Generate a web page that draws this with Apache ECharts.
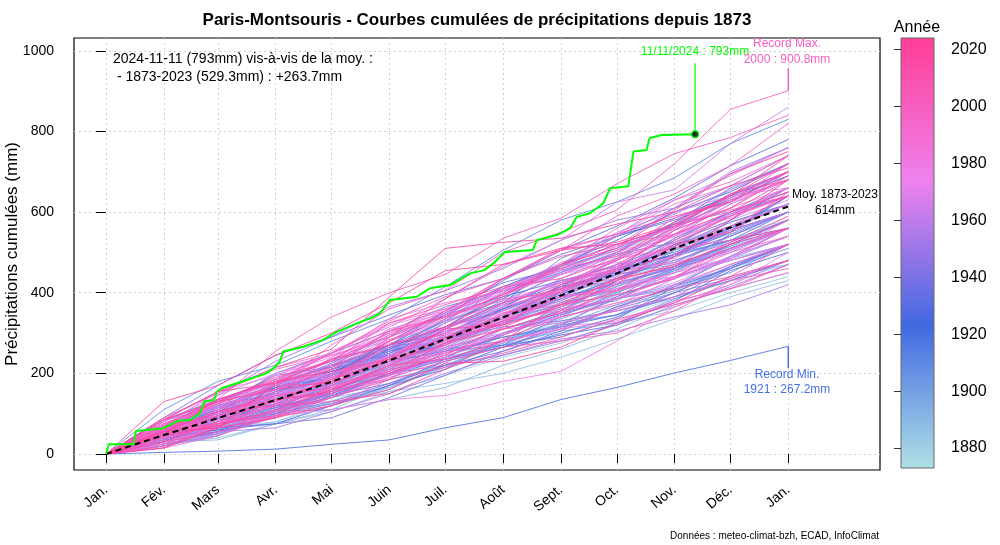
<!DOCTYPE html>
<html><head><meta charset="utf-8">
<script src="https://cdn.jsdelivr.net/npm/echarts@6/dist/echarts.min.js"></script>
<style>html,body{margin:0;padding:0;background:#fff}#c{width:1000px;height:545px}</style>
</head><body><div id="c"></div>
<script>
// ---------- DATA ----------
const monthStartDays = [0,31,60,91,121,152,182,213,244,274,305,335,366];
const monthLabels = ['Jan.','Fév.','Mars','Avr.','Mai','Juin','Juil.','Août','Sept.','Oct.','Nov.','Déc.','Jan.'];
const yTicks = [0,200,400,600,800,1000];
const yearTicks = [1880,1900,1920,1940,1960,1980,2000,2020];
const firstYear = 1873;

// monthly precipitation (mm), Jan..Dec, one row per year (estimated)
const rain1870s = [
 [48,35,42,50,55,40,62,45,38,52,45,48],
 [30,28,35,40,38,45,30,52,40,48,42,42],
 [60,20,25,45,50,70,55,40,35,60,55,45],
 [40,65,70,45,30,50,45,55,60,65,40,75],
 [55,45,60,50,60,45,50,65,35,40,70,45],
 [45,30,40,70,80,65,55,75,40,60,70,50],
 [50,55,25,60,55,70,80,55,40,30,35,45]
];
const rain1880s = [
 [20,45,15,50,40,60,65,70,50,75,40,30],
 [35,50,45,30,40,65,55,80,60,45,40,35],
 [30,20,40,55,50,90,70,60,75,80,85,65],
 [50,40,20,30,45,55,70,40,50,60,55,45],
 [35,30,35,25,30,40,45,35,50,30,45,40],
 [40,50,45,40,55,35,30,50,70,60,55,50],
 [70,35,50,45,60,55,40,45,30,75,55,80],
 [25,15,35,30,50,20,25,40,45,50,55,40],
 [35,40,60,45,30,65,85,50,30,25,45,50],
 [30,45,40,55,60,50,45,40,35,55,30,35]
];
const rain1890s = [
 [45,10,25,40,45,55,60,50,25,30,55,30],
 [30,5,40,35,60,55,70,65,45,50,55,50],
 [40,35,30,20,35,60,50,55,60,65,30,40],
 [45,50,10,5,25,30,55,40,50,60,40,40],
 [40,45,35,50,55,45,60,70,35,45,50,50],
 [45,15,50,45,30,35,55,50,20,75,65,55],
 [20,25,60,35,25,50,65,70,80,75,60,55],
 [35,55,65,50,40,45,40,60,55,25,45,65],
 [25,30,40,45,60,40,30,35,20,60,45,50],
 [50,30,35,55,45,40,35,30,50,40,55,55]
];
const rain1900s = [
 [60,75,30,40,35,45,40,50,30,55,60,40],
 [35,30,55,45,30,40,45,55,50,35,40,60],
 [30,45,50,35,65,50,55,40,45,50,40,55],
 [50,25,45,55,60,75,70,65,55,70,30,40],
 [55,50,35,30,40,25,30,45,55,40,60,55],
 [25,20,55,50,45,40,35,70,60,55,55,50],
 [60,45,40,30,50,35,20,40,25,55,60,50],
 [30,35,40,55,60,65,40,35,20,80,60,60],
 [20,30,50,55,45,40,60,50,35,25,40,70],
 [35,15,55,50,60,70,75,40,55,65,40,60]
];
const rain1910s = [
 [110,70,40,60,55,80,90,75,45,60,85,60],
 [30,40,45,35,50,55,15,20,45,80,75,70],
 [60,65,70,20,45,70,45,110,55,40,50,60],
 [55,20,60,60,50,40,55,45,50,55,60,50],
 [30,60,75,25,55,65,60,50,40,35,65,60],
 [85,50,40,45,50,30,60,55,35,45,55,90],
 [45,70,85,50,55,60,40,45,50,75,70,55],
 [40,20,45,55,50,75,80,65,25,40,35,30],
 [65,35,30,60,40,25,55,45,75,60,40,70],
 [70,45,60,45,25,40,55,50,30,45,55,60]
];
const rain1920s = [
 [60,30,35,65,70,55,60,50,45,30,55,85],
 [4,3,5,12,11,30,25,45,30,36,31,35.2],
 [45,50,60,55,40,65,85,70,50,45,60,75],
 [50,70,30,45,70,25,50,55,60,80,65,50],
 [40,35,45,75,85,70,65,55,60,70,50,70],
 [55,65,40,50,45,30,55,70,45,40,60,45],
 [45,55,40,60,70,75,45,40,35,65,70,60],
 [50,40,65,55,45,70,60,80,75,45,55,60],
 [65,45,55,40,50,45,60,55,30,70,60,45],
 [40,20,15,45,50,40,55,30,25,60,75,45]
];
const rain1930s = [
 [60,45,65,55,70,50,85,75,60,70,80,65],
 [55,50,45,50,70,60,80,45,40,30,55,80],
 [40,15,55,65,70,45,50,40,55,60,45,60],
 [45,40,35,25,50,55,40,25,30,45,40,50],
 [30,25,40,50,30,45,35,50,60,50,45,60],
 [55,60,35,70,45,50,40,60,65,85,75,60],
 [80,55,50,45,40,85,70,35,50,60,65,55],
 [90,80,75,45,55,50,40,60,45,70,55,75],
 [45,20,10,15,50,55,60,45,40,60,65,55],
 [70,50,45,55,40,75,80,50,40,70,85,60]
];
const rain1940s = [
 [40,45,50,35,60,45,70,50,55,65,80,45],
 [50,55,40,45,50,30,55,60,40,35,45,55],
 [45,25,40,30,60,40,55,50,45,50,40,40],
 [55,30,15,30,45,55,35,50,45,40,35,45],
 [35,40,20,30,45,65,30,55,70,75,80,55],
 [45,50,20,30,55,40,60,45,50,40,55,50],
 [40,55,30,35,60,55,50,65,55,30,65,60],
 [40,45,85,40,35,40,30,15,25,35,70,60],
 [85,30,20,40,55,60,55,65,40,30,45,55],
 [30,40,35,45,50,20,25,35,40,45,50,55]
];
const rain1950s = [
 [35,70,40,50,55,50,65,70,60,45,80,60],
 [65,80,85,60,75,40,55,70,50,30,90,60],
 [60,35,55,60,45,50,40,65,75,70,80,65],
 [20,35,10,40,45,50,45,40,20,35,30,50],
 [45,50,40,20,55,60,70,65,55,60,45,55],
 [70,60,45,25,55,50,30,35,40,50,40,60],
 [55,15,35,50,40,70,60,75,65,50,40,45],
 [45,65,40,10,45,55,60,50,55,40,45,50],
 [60,75,40,45,70,60,55,65,70,55,60,65],
 [65,10,45,50,30,35,40,45,5,50,45,60]
];
const rain1960s = [
 [60,55,45,40,35,60,80,75,65,95,85,65],
 [70,45,15,60,55,50,45,60,55,80,60,55],
 [55,30,60,45,50,20,35,50,40,30,55,50],
 [25,20,60,55,65,60,50,75,50,30,65,45],
 [20,30,60,55,40,60,35,40,30,65,55,70],
 [75,40,55,85,60,70,80,65,95,30,115,90],
 [50,80,30,75,55,60,85,70,40,85,60,70],
 [40,55,50,35,90,40,55,45,60,75,45,50],
 [65,55,40,50,70,60,55,75,80,50,40,20],
 [70,60,55,50,75,40,50,55,20,10,70,65]
];
const rain1970s = [
 [80,65,55,45,35,50,40,60,35,45,70,50],
 [50,35,45,40,65,70,40,45,15,30,45,40],
 [45,50,35,55,60,45,40,30,25,40,60,75],
 [30,45,15,50,55,45,70,40,60,40,35,55],
 [70,65,40,15,35,45,60,50,85,80,75,60],
 [55,20,65,45,40,25,45,60,70,15,65,55],
 [30,35,30,15,25,10,35,25,75,85,55,80],
 [70,85,40,45,60,55,50,70,40,45,65,55],
 [65,60,55,50,65,45,40,45,30,20,30,75],
 [60,55,80,55,70,35,40,50,35,60,55,65]
];
const rain1980s = [
 [55,45,80,20,40,85,75,45,50,90,50,65],
 [50,35,95,40,85,55,50,45,90,75,45,75],
 [60,25,60,20,45,90,55,70,55,80,70,50],
 [50,45,55,90,95,40,30,40,55,45,40,55],
 [75,50,55,15,70,35,40,50,70,65,65,50],
 [40,30,50,55,60,50,40,65,20,30,45,75],
 [65,35,55,60,70,30,35,55,25,65,70,55],
 [45,40,65,40,50,75,60,50,35,95,55,50],
 [85,70,60,35,55,40,65,50,45,60,45,90],
 [25,45,55,65,15,40,35,30,20,50,30,40]
];
const rain1990s = [
 [50,75,15,40,20,55,25,30,50,60,50,50],
 [40,35,50,35,25,75,50,15,30,35,45,45],
 [15,30,50,55,45,85,65,75,60,65,85,50],
 [55,10,25,70,60,55,90,40,95,85,40,95],
 [80,55,45,70,75,35,50,60,90,70,45,65],
 [85,70,55,35,45,50,45,15,85,25,55,75],
 [35,45,40,40,55,35,45,60,30,55,60,40],
 [15,60,20,25,65,90,55,60,15,45,60,50],
 [55,15,35,95,30,60,40,25,85,90,60,70],
 [70,60,55,65,80,60,45,70,85,55,70,105]
];
const rain2000s = [
 [40,70,60,100,90,45,95,50,55,115,135,45.8],
 [70,65,120,85,60,45,90,50,85,75,40,55],
 [60,75,45,50,70,40,55,65,30,70,85,55],
 [55,20,30,35,50,40,35,15,20,55,75,30],
 [70,25,35,55,45,40,60,85,20,75,20,30],
 [30,25,35,50,45,30,35,40,45,35,40,60],
 [20,45,70,45,95,20,40,85,50,75,55,50],
 [60,65,45,5,105,75,80,55,30,25,55,80],
 [65,25,70,50,70,55,60,70,55,45,40,35],
 [45,50,35,55,50,45,70,20,25,40,85,60]
];
const rain2010s = [
 [45,60,40,20,55,70,30,85,50,65,70,50],
 [60,45,15,10,20,60,75,55,35,35,30,80],
 [60,15,20,75,70,70,65,35,50,95,55,80],
 [75,55,60,40,95,45,45,20,50,90,65,80],
 [85,70,20,40,90,35,95,75,10,45,80,35],
 [55,50,30,20,65,15,45,95,55,40,50,40],
 [90,60,65,45,130,120,15,10,35,30,65,45],
 [30,50,55,15,50,45,70,55,65,30,60,65],
 [130,40,75,55,75,80,15,35,20,45,70,100],
 [45,25,40,50,45,70,35,40,55,85,90,100]
];
const rain2020s = [
 [50,85,45,25,30,75,10,45,55,100,30,100],
 [85,45,30,20,110,95,85,40,35,45,35,75],
 [15,50,25,30,40,65,5,35,60,50,65,40],
 [55,10,110,60,35,45,75,80,40,95,90,55]
];

// mean cumulative curve 1873-2023 at month starts
const meanCum = [0,47,89,134,179,232,285,339,393,448,510,562,614];

// 2024 cumulative curve (to 11 Nov)
const y2024Days = [0,1.5,14.7,16,30.8,38.8,45,50.4,52.6,58,59.4,62,75.5,86,90.7,93.3,95,105.8,116.6,123.7,134.5,141.6,147,152.3,166.7,173.8,184.5,195.3,203,207.8,214,229,231,241.8,249,252.5,259.6,266.8,270.4,280.2,282.9,290,291.5,298,316];
const y2024Cum  = [0,24,24,57,64,82.6,84,101,130,134,154.5,163,183.5,200,216,230,254,266,283,303,324,336,349,382,390,411,419,448,456,473,501,506,530,543,560,588,597,622,659,664,750,754,783,791,793];

// annotations
const recMaxYear = 2000, recMaxVal = 900.8;
const recMinYear = 1921, recMinVal = 267.2;
const meanTotal = 614;
const lastDay = 316, lastVal = 793;

// ---------- BUILD ----------
const PALETTE = ['#B0E0E6','#4169E1','#EE82EE','#FF3E96'];
const Y0 = 1873, Y1 = 2024;
function yearColor(y){ return echarts.color.lerp((y - Y0)/(Y1 - Y0), PALETTE); }
const FONT = '"Liberation Sans", Arial, Helvetica, sans-serif';

const rows = [].concat(rain1870s,rain1880s,rain1890s,rain1900s,rain1910s,rain1920s,rain1930s,rain1940s,rain1950s,rain1960s,rain1970s,rain1980s,rain1990s,rain2000s,rain2010s,rain2020s);

const series = [];
rows.forEach((m, i) => {
  const year = firstYear + i;
  let c = 0;
  const pts = [[monthStartDays[0], 0]];
  m.forEach((v, k) => { c += v; pts.push([monthStartDays[k+1], Math.round(c*10)/10]); });
  series.push({
    type:'line', name:String(year), data:pts, xAxisIndex:0, yAxisIndex:0,
    symbol:'none', silent:true, animation:false, z:2,
    lineStyle:{width:1, color:yearColor(year), opacity:0.85}
  });
});
// mean
series.push({type:'line', data:monthStartDays.map((d,i)=>[d,meanCum[i]]), symbol:'none', silent:true, z:3,
  lineStyle:{width:2, color:'#000', type:[6,4]}});
// 2024
series.push({type:'line', data:y2024Days.map((d,i)=>[d,y2024Cum[i]]), symbol:'none', silent:true, z:4,
  lineStyle:{width:2, color:'#00FF00'}});
// annotation lines
const maxCol = yearColor(recMaxYear), minCol = yearColor(recMinYear);
series.push({type:'line', data:[[lastDay,lastVal],[lastDay,969]], symbol:'none', silent:true, z:4, lineStyle:{width:1.2,color:'#00FF00'}});
series.push({type:'line', data:[[366,recMaxVal],[366,957]], symbol:'none', silent:true, z:4, lineStyle:{width:1.5,color:maxCol}});
series.push({type:'line', data:[[366,recMinVal],[366,213]], symbol:'none', silent:true, z:4, lineStyle:{width:1.5,color:minCol}});
series.push({type:'scatter', data:[[lastDay,lastVal]], symbol:'circle', symbolSize:7, silent:true, z:5,
  itemStyle:{color:'#000', borderColor:'#00FF00', borderWidth:1.5}});
// colour bar
series.push({type:'custom', xAxisIndex:1, yAxisIndex:1, silent:true, z:1, data:[[0,Y0,Y1]],
  renderItem:(params, api) => {
    const p0 = api.coord([0, api.value(2)]);
    const p1 = api.coord([1, api.value(1)]);
    return {type:'rect', shape:{x:p0[0], y:p0[1], width:p1[0]-p0[0], height:p1[1]-p0[1]},
      style:{fill:new echarts.graphic.LinearGradient(0,1,0,0, PALETTE.map((c,i)=>({offset:i/(PALETTE.length-1), color:c}))),
             stroke:'#666', lineWidth:1}};
  }});

function txt(x, y, text, o) {
  o = o || {};
  return Object.assign({type:'text', x, y, silent:true, z:10,
    style:{text, fontSize:o.size||12, fontFamily:FONT, fontWeight:o.weight||'normal',
           fill:o.color||'#000', align:o.align||'center', verticalAlign:'middle'}}, o.extra||{});
}

const option = {
  animation:false,
  backgroundColor:'#fff',
  grid:[
    {left:74, right:120, top:38, bottom:75, show:true, borderColor:'#000', borderWidth:1.2, backgroundColor:'transparent', outerBoundsMode:'none'},
    {left:901, width:33, top:38, height:430, show:false, outerBoundsMode:'none'}
  ],
  xAxis:[
    {type:'value', gridIndex:0, min:-17.2, max:415.2,
     axisLine:{show:false},
     axisTick:{show:true, length:9, customValues:monthStartDays, lineStyle:{color:'#000', width:1}},
     axisLabel:{customValues:monthStartDays, rotate:40, margin:18, fontSize:14, fontFamily:FONT, color:'#000',
       formatter:(v)=>{const k=monthStartDays.indexOf(v); return k>=0?monthLabels[k]:'';}},
     splitLine:{show:true, lineStyle:{color:'#d0d0d0', type:[2,3], width:1}}},
    {type:'value', gridIndex:1, min:0, max:1, show:false}
  ],
  yAxis:[
    {type:'value', gridIndex:0, min:-39.7, max:1031.7,
     axisLine:{show:false},
     axisTick:{show:true, length:10, customValues:yTicks, lineStyle:{color:'#000', width:1}},
     axisLabel:{customValues:yTicks, margin:20, fontSize:14, fontFamily:FONT, color:'#000', formatter:(v)=>String(v)},
     splitLine:{show:true, lineStyle:{color:'#d0d0d0', type:[2,3], width:1}}},
    {type:'value', gridIndex:1, min:Y0, max:Y1, position:'right', z:10,
     axisLine:{show:false},
     axisTick:{show:true, inside:true, length:7, customValues:yearTicks, lineStyle:{color:'#333', width:1}},
     axisLabel:{customValues:yearTicks, margin:17, fontSize:16, fontFamily:FONT, color:'#000', formatter:(v)=>String(v)},
     splitLine:{show:false}}
  ],
  graphic:[
    txt(477, 20, 'Paris-Montsouris - Courbes cumulées de précipitations depuis 1873', {size:17, weight:'bold'}),
    txt(12, 254, 'Précipitations cumulées (mm)', {size:17, extra:{rotation:Math.PI/2}}),
    txt(113, 59, '2024-11-11 (793mm) vis-à-vis de la moy. :', {size:14, align:'left'}),
    txt(113, 77, ' - 1873-2023 (529.3mm) : +263.7mm', {size:14, align:'left'}),
    txt(695, 51.5, '11/11/2024 : ' + lastVal + 'mm', {size:12, color:'#00FF00'}),
    txt(787, 44, 'Record Max.', {size:12, color:maxCol}),
    txt(787, 59.5, recMaxYear + ' : ' + recMaxVal + 'mm', {size:12, color:maxCol}),
    txt(787, 374.5, 'Record Min.', {size:12, color:minCol}),
    txt(787, 390, recMinYear + ' : ' + recMinVal + 'mm', {size:12, color:minCol}),
    txt(835, 195, 'Moy. 1873-2023', {size:12}),
    txt(835, 211, meanTotal + 'mm', {size:12}),
    txt(879, 536.5, 'Données : meteo-climat-bzh, ECAD, InfoClimat', {size:10, align:'right'}),
    txt(917, 28, 'Année', {size:16})
  ],
  series
};
const chart = echarts.init(document.getElementById('c'), null, {renderer:'canvas'});
chart.setOption(option);
</script>
</body></html>
